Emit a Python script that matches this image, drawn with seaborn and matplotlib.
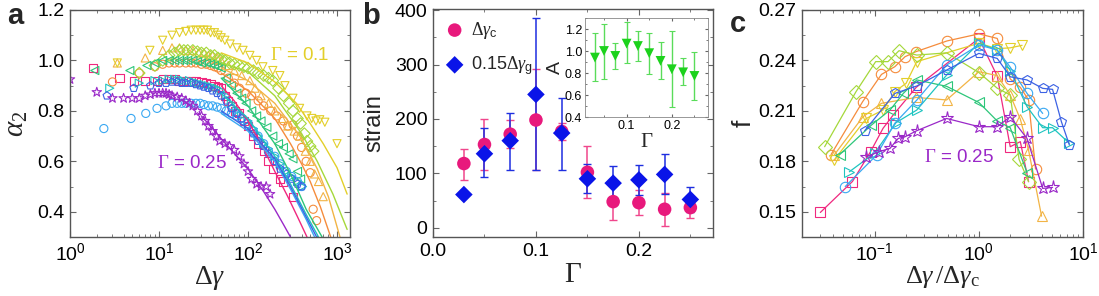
import numpy as np
import matplotlib
matplotlib.use("Agg")
import matplotlib.pyplot as plt
import matplotlib.ticker as mticker
import seaborn as sns

# ---------------- data ----------------
gammas = [0.03, 0.05, 0.075, 0.1, 0.125, 0.15, 0.175, 0.2, 0.225, 0.25]
colors = ['#F0287F', '#F58C3C', '#F2B445', '#E3CF2A', '#A5D83A',
          '#2DC67A', '#1EC4C0', '#3AA8F2', '#3C62E4', '#9A28C8']
markers = ['s', 'o', '^', 'v', 'D', '<', '>', 'o', 'p', '*']

# panel a : alpha_2 vs strain (symbols)
a_x = [
    [1.8, 3.6, 5.2, 7.0, 9.4, 11, 13, 15, 17, 20, 23, 26, 30, 34, 38, 42, 46, 50, 55, 60, 66, 72, 80, 90, 100, 115, 130, 150, 170, 190, 228, 250, 320],
    [3.0, 6.0, 9.0, 11, 13, 15, 17, 20, 23, 26, 30, 34, 38, 42, 46, 50, 60, 70, 80, 95, 110, 130, 150, 180, 210, 250, 280, 320, 360, 400, 450, 500, 540, 590],
    [3.4, 7.0, 11, 14, 17, 20, 24, 28, 32, 36, 40, 45, 50, 60, 70, 85, 105, 120, 140, 170, 200, 240, 280, 330, 380, 440, 500, 560, 620, 700],
    [3.4, 7.9, 11, 14, 17, 20, 23, 26, 29, 32, 35, 38, 42, 46, 50, 55, 63, 75, 88, 105, 125, 147, 190, 228, 260, 320, 380, 460, 520, 580, 640, 730, 1000],
    [6, 9, 11, 13, 15, 17, 19, 21, 24, 27, 30, 34, 38, 42, 46, 50, 55, 62, 70, 80, 90, 100, 115, 130, 150, 170, 190, 220, 250, 290, 320, 360, 390, 430, 460, 500, 540],
    [1.9, 4.7, 7.3, 9, 11, 13, 15, 17, 19, 21, 24, 27, 30, 34, 38, 42, 46, 50, 57, 65, 75, 85, 95, 110, 125, 140, 163, 190, 220, 250, 290, 320, 360, 390],
    [2.8, 6, 9, 11, 13, 15, 17, 19, 22, 25, 28, 32, 36, 40, 45, 50, 57, 65, 75, 85, 100, 115, 130, 150, 170, 200, 230, 270, 310, 360, 410],
    [2.4, 4.85, 7.1, 9.5, 12, 14, 16, 18, 20, 23, 26, 29, 32, 36, 40, 45, 50, 57, 65, 75, 85, 100, 115, 130, 150, 170, 200, 230, 270, 310, 360, 400],
    [2.6, 5.2, 8, 10, 12, 14, 16, 18, 20, 23, 26, 29, 32, 36, 40, 45, 50, 57, 65, 75, 85, 100, 115, 130, 150, 170, 200, 230, 270, 310, 360, 400],
    [1.0, 2.0, 3.0, 4.0, 5.0, 6.0, 7.0, 8.0, 9.0, 10, 11, 12, 13, 14, 16, 18, 20, 22, 24, 27, 30, 33, 36, 40, 44, 48, 55, 62, 70, 80, 90, 100, 110, 125, 140, 160, 177],
]
a_y = [
    [0.97, 0.93, 0.92, 0.92, 0.92, 0.925, 0.925, 0.925, 0.92, 0.92, 0.92, 0.92, 0.915, 0.91, 0.905, 0.90, 0.895, 0.89, 0.86, 0.84, 0.82, 0.80, 0.79, 0.76, 0.74, 0.70, 0.67, 0.64, 0.60, 0.57, 0.53, 0.52, 0.46],
    [0.915, 0.95, 0.975, 0.985, 0.99, 0.99, 0.99, 0.99, 0.99, 0.99, 0.985, 0.985, 0.98, 0.975, 0.97, 0.96, 0.93, 0.91, 0.89, 0.87, 0.86, 0.84, 0.82, 0.80, 0.78, 0.76, 0.74, 0.745, 0.70, 0.655, 0.60, 0.555, 0.41, 0.365],
    [0.99, 1.01, 1.04, 1.05, 1.05, 1.04, 1.04, 1.03, 1.03, 1.02, 1.02, 1.01, 1.00, 0.98, 0.96, 0.94, 0.92, 0.89, 0.86, 0.83, 0.80, 0.77, 0.74, 0.72, 0.70, 0.64, 0.60, 0.55, 0.52, 0.46],
    [0.99, 1.04, 1.08, 1.10, 1.11, 1.115, 1.12, 1.12, 1.12, 1.12, 1.12, 1.11, 1.11, 1.10, 1.09, 1.08, 1.065, 1.05, 1.04, 1.02, 1.00, 0.975, 0.96, 0.94, 0.90, 0.85, 0.81, 0.78, 0.77, 0.76, 0.765, 0.755, 0.67],
    [0.95, 0.98, 1.0, 1.02, 1.03, 1.04, 1.04, 1.04, 1.04, 1.035, 1.03, 1.03, 1.02, 1.02, 1.01, 1.005, 1.0, 0.99, 0.985, 0.98, 0.975, 0.97, 0.96, 0.95, 0.94, 0.93, 0.92, 0.89, 0.86, 0.83, 0.80, 0.77, 0.75, 0.71, 0.68, 0.66, 0.64],
    [0.96, 0.96, 0.98, 0.99, 1.0, 1.0, 1.0, 1.0, 1.0, 1.0, 1.0, 0.995, 0.99, 0.99, 0.985, 0.98, 0.975, 0.97, 0.93, 0.90, 0.87, 0.85, 0.83, 0.80, 0.78, 0.76, 0.735, 0.70, 0.67, 0.655, 0.63, 0.61, 0.56, 0.53],
    [0.89, 0.91, 0.92, 0.92, 0.925, 0.925, 0.925, 0.92, 0.92, 0.915, 0.91, 0.905, 0.90, 0.895, 0.89, 0.88, 0.86, 0.83, 0.80, 0.78, 0.76, 0.73, 0.70, 0.67, 0.65, 0.62, 0.59, 0.56, 0.54, 0.52, 0.50],
    [0.73, 0.77, 0.79, 0.81, 0.82, 0.83, 0.83, 0.83, 0.83, 0.83, 0.83, 0.83, 0.825, 0.82, 0.82, 0.815, 0.81, 0.80, 0.79, 0.78, 0.77, 0.75, 0.72, 0.70, 0.67, 0.64, 0.62, 0.59, 0.56, 0.54, 0.52, 0.50],
    [0.86, 0.89, 0.90, 0.91, 0.91, 0.915, 0.915, 0.91, 0.91, 0.91, 0.905, 0.90, 0.895, 0.89, 0.88, 0.87, 0.86, 0.84, 0.81, 0.79, 0.77, 0.74, 0.71, 0.68, 0.66, 0.63, 0.60, 0.57, 0.55, 0.53, 0.51, 0.50],
    [0.925, 0.874, 0.85, 0.85, 0.85, 0.85, 0.86, 0.865, 0.87, 0.87, 0.87, 0.87, 0.865, 0.86, 0.855, 0.85, 0.84, 0.83, 0.82, 0.80, 0.78, 0.76, 0.74, 0.72, 0.70, 0.68, 0.67, 0.66, 0.645, 0.62, 0.59, 0.56, 0.53, 0.51, 0.50, 0.50, 0.47],
]
# panel a : fitted curves
fit_x = [
    [50, 70, 100, 150, 200, 280, 360, 460],
    [50, 100, 200, 300, 400, 500, 650, 850],
    [50, 100, 200, 400, 600, 800, 1080],
    [50, 100, 200, 350, 500, 700, 1000, 1300],
    [50, 100, 200, 400, 600, 900, 1300],
    [50, 100, 200, 300, 450, 680],
    [50, 100, 200, 300, 450, 620],
    [50, 100, 200, 300, 450, 560],
    [50, 100, 200, 300, 450, 590],
    [30, 50, 100, 150, 200, 250, 300],
]
fit_y = [
    [0.90, 0.84, 0.76, 0.65, 0.56, 0.46, 0.38, 0.30],
    [0.95, 0.88, 0.77, 0.67, 0.59, 0.52, 0.42, 0.30],
    [0.97, 0.92, 0.83, 0.69, 0.57, 0.46, 0.30],
    [1.03, 0.99, 0.915, 0.83, 0.75, 0.67, 0.575, 0.47],
    [0.99, 0.955, 0.86, 0.71, 0.60, 0.47, 0.33],
    [0.93, 0.82, 0.67, 0.55, 0.41, 0.30],
    [0.87, 0.77, 0.62, 0.51, 0.39, 0.30],
    [0.79, 0.72, 0.60, 0.49, 0.37, 0.30],
    [0.80, 0.73, 0.61, 0.50, 0.38, 0.30],
    [0.78, 0.69, 0.57, 0.48, 0.41, 0.35, 0.30],
]

# panel b : characteristic strains
gc_val = [118, 153, 172, 198, 177, 102, 48, 46, 34, 37]
gc_lo = [88, 106, 147, 106, 162, 54, 15, 23, 4, 18]
gc_hi = [145, 200, 198, 291, 192, 151, 84, 69, 64, 56]
gg_val = [61, 136, 160, 245, 174, 90, 82, 88, 98, 52]
gg_lo = [61, 93, 106, 106, 106, 64, 52, 61, 62, 29]
gg_hi = [61, 183, 211, 386, 238, 118, 113, 116, 136, 75]

# panel b inset : A
A_val = [0.94, 1.0, 0.955, 1.067, 1.045, 0.98, 0.91, 0.834, 0.806, 0.773]
A_lo = [0.727, 0.75, 0.834, 0.888, 0.91, 0.79, 0.75, 0.494, 0.69, 0.555]
A_hi = [1.16, 1.25, 1.07, 1.26, 1.18, 1.167, 1.08, 1.185, 0.934, 0.994]

# panel c : f vs rescaled strain
c_x = [
    [0.030, 0.061, 0.091, 0.12, 0.15, 0.25, 1.0, 1.5, 2.0, 2.5, 3.0],
    [0.038, 0.0765, 0.116, 0.156, 0.195, 0.248, 0.494, 1.0, 1.5, 2.0, 2.5, 3.0, 3.5],
    [0.041, 0.077, 0.116, 0.25, 0.49, 1.0, 1.5, 2.0, 2.5, 3.0, 4.0],
    [0.041, 0.083, 0.12, 0.156, 0.2, 0.253, 1.0, 1.5, 2.0, 2.6],
    [0.033, 0.066, 0.102, 0.134, 0.171, 0.253, 0.49, 1.0, 1.5, 2.0, 2.43, 3.0],
    [0.046, 0.093, 0.14, 0.188, 0.253, 0.49, 1.0, 1.5, 2.0, 2.9],
    [0.057, 0.1, 0.16, 0.253, 0.49, 1.0, 1.5, 2.0, 2.9, 4.1, 5.1, 7.4],
    [0.052, 0.104, 0.156, 0.253, 0.49, 1.0, 1.5, 2.0, 2.9, 4.1],
    [0.08, 0.156, 0.253, 0.49, 1.0, 1.5, 2.0, 2.9, 4.1, 5.1, 6.2, 7.4],
    [0.082, 0.11, 0.14, 0.168, 0.195, 0.253, 0.49, 1.0, 1.5, 2.0, 2.9, 4.1, 5.1],
]
c_y = [
    [0.1496, 0.168, 0.1857, 0.1996, 0.2075, 0.224, 0.2531, 0.2307, 0.1887, 0.1917, 0.1679],
    [0.184, 0.2155, 0.2317, 0.2363, 0.2422, 0.2452, 0.2516, 0.2558, 0.2531, 0.229, 0.224, 0.2165, 0.1754],
    [0.184, 0.2065, 0.2145, 0.218, 0.2165, 0.2333, 0.231, 0.2194, 0.2051, 0.1867, 0.1474],
    [0.181, 0.2055, 0.2105, 0.2215, 0.2264, 0.2393, 0.2502, 0.247, 0.2475, 0.249],
    [0.1887, 0.2214, 0.2393, 0.2393, 0.2458, 0.2432, 0.2445, 0.2328, 0.2235, 0.2195, 0.1812, 0.1679],
    [0.184, 0.2016, 0.2105, 0.2204, 0.2284, 0.2246, 0.215, 0.204, 0.2, 0.1733],
    [0.1738, 0.185, 0.203, 0.2105, 0.2313, 0.2502, 0.2462, 0.234, 0.2125, 0.200, 0.200, 0.1907],
    [0.165, 0.1837, 0.2027, 0.2164, 0.2373, 0.2492, 0.2462, 0.236, 0.2204, 0.2085],
    [0.1982, 0.2204, 0.2248, 0.2343, 0.2442, 0.2412, 0.2303, 0.2284, 0.2234, 0.2228, 0.2036, 0.1897],
    [0.1827, 0.1857, 0.1877, 0.1936, 0.1946, 0.1982, 0.2055, 0.2006, 0.2006, 0.2065, 0.1936, 0.1639, 0.1645],
]

# ---------------- style ----------------
sns.set_style("ticks")
plt.rcParams['font.family'] = ['Liberation Sans', 'DejaVu Sans']
plt.rcParams['mathtext.fontset'] = 'custom'
plt.rcParams['mathtext.rm'] = 'Liberation Serif'
plt.rcParams['mathtext.it'] = 'Liberation Serif:italic'
plt.rcParams['mathtext.bf'] = 'Liberation Serif:bold'
plt.rcParams['mathtext.sf'] = 'Liberation Sans'
plt.rcParams['axes.edgecolor'] = '#555555'
plt.rcParams['xtick.color'] = '#666666'
plt.rcParams['ytick.color'] = '#666666'
plt.rcParams['xtick.labelcolor'] = 'black'
plt.rcParams['ytick.labelcolor'] = 'black'

W, H = 1099, 296
fig = plt.figure(figsize=(W / 100, H / 100), dpi=100)


def box(l, t, r, b):
    return [l / W, 1 - b / H, (r - l) / W, (b - t) / H]


def style_ax(ax, size=14):
    ax.tick_params(which='both', direction='in', top=True, right=True, labelsize=size)
    ax.tick_params(which='major', length=4, width=0.8, pad=4)
    ax.tick_params(which='minor', length=2.5, width=0.6)
    for s in ax.spines.values():
        s.set_linewidth(1.0)


def sf_log(v, pos):
    return r'$\mathsf{10^{%d}}$' % int(round(np.log10(v)))


# ---------------- panel a ----------------
axa = fig.add_axes(box(70, 10, 350, 237))
for i in range(len(gammas)):
    sns.lineplot(x=fit_x[i], y=fit_y[i], color=colors[i], lw=1.0, ax=axa)
    sns.scatterplot(x=a_x[i], y=a_y[i], marker=markers[i], s=34 if markers[i] != '*' else 50,
                    facecolor='none', edgecolor=colors[i], linewidth=0.8, ax=axa)
axa.set_xscale('log')
axa.set_xlim(1, 1400)
axa.set_ylim(0.3, 1.2)
axa.yaxis.set_major_locator(mticker.MultipleLocator(0.2))
axa.yaxis.set_minor_locator(mticker.MultipleLocator(0.1))
axa.yaxis.set_major_formatter(mticker.FormatStrFormatter('%.1f'))
axa.xaxis.set_major_formatter(mticker.FuncFormatter(sf_log))
style_ax(axa)
axa.set_xlabel(r'$\Delta\gamma$', fontsize=20, labelpad=0)
axa.set_ylabel(r'$\alpha_2$', fontsize=21, labelpad=5)
axa.text(175, 1.02, r'$\Gamma$ = 0.1', color=colors[3], fontsize=13.5, va='center')
axa.text(9.5, 0.59, r'$\Gamma$ = 0.25', color=colors[9], fontsize=13.5, va='center')

# ---------------- panel b ----------------
axb = fig.add_axes(box(433, 9, 713, 237))
gc_err = [np.array(gc_val) - np.array(gc_lo), np.array(gc_hi) - np.array(gc_val)]
gg_err = [np.array(gg_val) - np.array(gg_lo), np.array(gg_hi) - np.array(gg_val)]
axb.errorbar(gammas, gc_val, yerr=gc_err, fmt='none', ecolor='#F0468C', elinewidth=1.1,
             capsize=3, capthick=1.0)
axb.errorbar(gammas, gg_val, yerr=gg_err, fmt='none', ecolor='#1E2EE0', elinewidth=1.1,
             capsize=3, capthick=1.0)
sns.scatterplot(x=gammas, y=gc_val, marker='o', s=95, color='#E8197C', edgecolor='none',
                ax=axb, label=r'$\Delta\gamma_{\mathsf{c}}$', zorder=3)
sns.scatterplot(x=gammas, y=gg_val, marker='D', s=80, color='#0A14E8', edgecolor='none',
                ax=axb, label=r'0.15$\Delta\gamma_{\mathsf{g}}$', zorder=3)
axb.set_xlim(0, 0.272)
axb.set_ylim(-17, 402)
axb.xaxis.set_major_locator(mticker.MultipleLocator(0.1))
axb.xaxis.set_minor_locator(mticker.MultipleLocator(0.05))
axb.xaxis.set_major_formatter(mticker.FormatStrFormatter('%.1f'))
axb.yaxis.set_major_locator(mticker.MultipleLocator(100))
axb.yaxis.set_minor_locator(mticker.MultipleLocator(50))
style_ax(axb)
axb.set_xlabel(r'$\Gamma$', fontsize=21, labelpad=0)
axb.set_ylabel('strain', fontsize=17, labelpad=7)
axb.legend(loc='upper left', frameon=False, fontsize=13, handletextpad=0.3,
           borderaxespad=0.3, labelspacing=0.75, handlelength=1.2, borderpad=0.3)

# inset
axi = fig.add_axes(box(585, 18, 708, 117))
axi.errorbar(gammas, A_val, yerr=[np.array(A_val) - np.array(A_lo), np.array(A_hi) - np.array(A_val)],
             fmt='none', ecolor='#5ADC5A', elinewidth=1.0, capsize=2, capthick=0.8)
sns.scatterplot(x=gammas, y=A_val, marker='v', s=50, color='#1CD21C', edgecolor='none', ax=axi, zorder=3)
axi.set_xlim(0.008, 0.28)
axi.set_ylim(0.4, 1.3)
axi.xaxis.set_major_locator(mticker.MultipleLocator(0.1))
axi.xaxis.set_minor_locator(mticker.MultipleLocator(0.05))
axi.xaxis.set_major_formatter(mticker.FormatStrFormatter('%.1f'))
axi.yaxis.set_major_locator(mticker.MultipleLocator(0.2))
axi.yaxis.set_minor_locator(mticker.MultipleLocator(0.1))
axi.yaxis.set_major_formatter(mticker.FormatStrFormatter('%.1f'))
style_ax(axi, size=9)
axi.tick_params(which='major', length=2.5, pad=2)
axi.tick_params(which='minor', length=1.5)
for s in axi.spines.values():
    s.set_linewidth(0.6)
    s.set_edgecolor('#888888')
axi.set_xlabel(r'$\Gamma$', fontsize=15, labelpad=0)
axi.set_ylabel('A', fontsize=14, labelpad=1)

# ---------------- panel c ----------------
axc = fig.add_axes(box(802, 10, 1083, 237))
for i in range(len(gammas)):
    sns.lineplot(x=c_x[i], y=c_y[i], color=colors[i], lw=0.9, marker=markers[i],
                 markersize=7.5 if markers[i] != '*' else 9.5, markerfacecolor='none',
                 markeredgecolor=colors[i], markeredgewidth=0.8, sort=False,
                 estimator=None, ax=axc)
axc.set_xscale('log')
axc.set_xlim(0.02, 10)
axc.set_ylim(0.135, 0.27)
axc.yaxis.set_major_locator(mticker.MultipleLocator(0.03))
axc.yaxis.set_minor_locator(mticker.MultipleLocator(0.015))
axc.yaxis.set_major_formatter(mticker.FormatStrFormatter('%.2f'))
axc.xaxis.set_major_formatter(mticker.FuncFormatter(sf_log))
style_ax(axc)
axc.set_xlabel(r'$\Delta\gamma\,/\Delta\gamma_{\rm c}$', fontsize=19, labelpad=0)
axc.set_ylabel('f', fontsize=19, labelpad=2)
axc.text(0.30, 0.1825, r'$\Gamma$ = 0.25', color=colors[9], fontsize=13.5, va='center')

# panel letters
fig.text(7 / W, 1 - 24 / H, 'a', fontsize=21, fontweight='bold', va='baseline')
fig.text(362 / W, 1 - 24 / H, 'b', fontsize=21, fontweight='bold', va='baseline')
fig.text(730 / W, 1 - 32 / H, 'c', fontsize=21, fontweight='bold', va='baseline')

fig.savefig('out.png', dpi=100)
